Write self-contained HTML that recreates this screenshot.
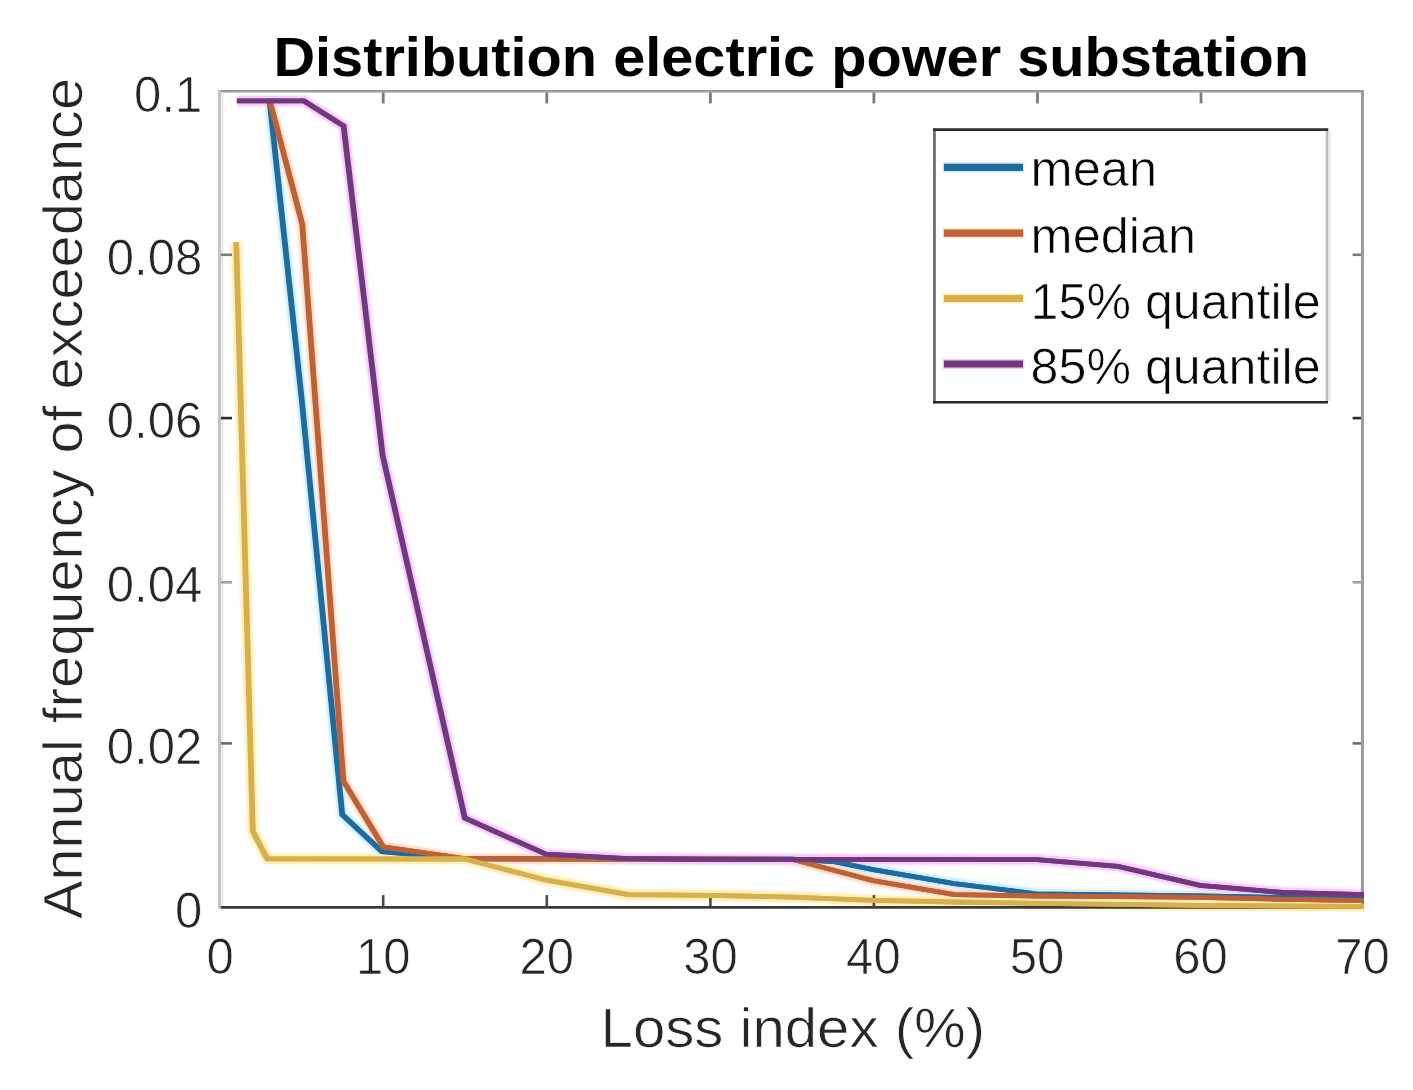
<!DOCTYPE html>
<html><head><meta charset="utf-8"><title>Distribution electric power substation</title>
<style>html,body{margin:0;padding:0;background:#fff;}body{width:1413px;height:1090px;overflow:hidden;}svg{display:block;}text{font-family:"Liberation Sans",sans-serif;}</style>
</head><body>
<svg width="1413" height="1090" viewBox="0 0 1413 1090" style="filter:blur(0.45px)">
<rect x="0" y="0" width="1413" height="1090" fill="#ffffff"/>
<clipPath id="cp"><rect x="216" y="86" width="1148.1" height="826"/></clipPath>
<g fill="none" stroke-linejoin="miter" stroke-linecap="butt" clip-path="url(#cp)">
<polyline points="269.6,100.9 301.8,400.0 342.2,814.5 382.0,851.6 464.8,858.9 792.0,859.2 833.0,861.5 873.0,869.7 954.4,883.6 1036.5,893.8 1118.0,895.0 1200.0,896.0 1282.0,897.5 1363.8,899.0" stroke="#f0fbff" stroke-width="14.0"/>
<polyline points="269.8,100.9 302.3,224.5 343.4,780.9 383.3,847.0 464.8,858.7 792.0,859.3 873.0,880.6 954.4,894.6 1036.5,896.0 1118.0,896.6 1200.0,897.4 1282.0,899.4 1363.8,900.7" stroke="#fff5ee" stroke-width="14.0"/>
<polyline points="236.2,242.2 252.8,831.4 267.2,858.9 464.8,859.0 546.5,880.2 628.5,894.7 710.0,895.3 792.0,897.1 873.0,900.4 954.4,902.0 1036.5,903.4 1200.0,905.4 1363.8,906.4" stroke="#fffae6" stroke-width="14.0"/>
<polyline points="237.2,100.9 304.0,100.9 343.6,125.9 382.6,455.0 464.8,818.0 546.0,854.2 628.0,858.6 710.0,859.3 1037.0,859.6 1118.0,866.3 1200.0,885.3 1282.0,892.5 1363.8,894.7" stroke="#fdf0fe" stroke-width="14.0"/>
<polyline points="269.6,100.9 301.8,400.0 342.2,814.5 382.0,851.6 464.8,858.9 792.0,859.2 833.0,861.5 873.0,869.7 954.4,883.6 1036.5,893.8 1118.0,895.0 1200.0,896.0 1282.0,897.5 1363.8,899.0" stroke="#cdefff" stroke-width="10.0"/>
<polyline points="269.8,100.9 302.3,224.5 343.4,780.9 383.3,847.0 464.8,858.7 792.0,859.3 873.0,880.6 954.4,894.6 1036.5,896.0 1118.0,896.6 1200.0,897.4 1282.0,899.4 1363.8,900.7" stroke="#ffdfca" stroke-width="10.0"/>
<polyline points="236.2,242.2 252.8,831.4 267.2,858.9 464.8,859.0 546.5,880.2 628.5,894.7 710.0,895.3 792.0,897.1 873.0,900.4 954.4,902.0 1036.5,903.4 1200.0,905.4 1363.8,906.4" stroke="#ffefb6" stroke-width="10.0"/>
<polyline points="237.2,100.9 304.0,100.9 343.6,125.9 382.6,455.0 464.8,818.0 546.0,854.2 628.0,858.6 710.0,859.3 1037.0,859.6 1118.0,866.3 1200.0,885.3 1282.0,892.5 1363.8,894.7" stroke="#f7cbfb" stroke-width="10.0"/>
</g>
<g fill="none" stroke-linecap="butt">
<line x1="218.0" y1="91.2" x2="1363.95" y2="91.2" stroke="#9b9b9b" stroke-width="2.4"/>
<line x1="1362.45" y1="90.0" x2="1362.45" y2="908.5999999999999" stroke="#9a9a9a" stroke-width="3"/>
<line x1="222.3" y1="92.4" x2="222.3" y2="906.0" stroke="#ebebeb" stroke-width="2.6"/>
<line x1="219.5" y1="90.0" x2="219.5" y2="908.5999999999999" stroke="#c3c3c3" stroke-width="3"/>
<line x1="220.8" y1="907.3" x2="1360.95" y2="907.3" stroke="#3a3a3a" stroke-width="2.7"/>
<line x1="383.2" y1="906.0" x2="383.2" y2="895.0999999999999" stroke="#4a4a4a" stroke-width="2.6"/>
<line x1="383.2" y1="92.4" x2="383.2" y2="103.4" stroke="#7a7a7a" stroke-width="2.8"/>
<line x1="546.8" y1="906.0" x2="546.8" y2="895.0999999999999" stroke="#4a4a4a" stroke-width="2.6"/>
<line x1="546.8" y1="92.4" x2="546.8" y2="103.4" stroke="#7a7a7a" stroke-width="2.8"/>
<line x1="710.4" y1="906.0" x2="710.4" y2="895.0999999999999" stroke="#4a4a4a" stroke-width="2.6"/>
<line x1="710.4" y1="92.4" x2="710.4" y2="103.4" stroke="#7a7a7a" stroke-width="2.8"/>
<line x1="873.9" y1="906.0" x2="873.9" y2="895.0999999999999" stroke="#4a4a4a" stroke-width="2.6"/>
<line x1="873.9" y1="92.4" x2="873.9" y2="103.4" stroke="#7a7a7a" stroke-width="2.8"/>
<line x1="1037.5" y1="92.4" x2="1037.5" y2="103.4" stroke="#7a7a7a" stroke-width="2.8"/>
<line x1="1201.0" y1="92.4" x2="1201.0" y2="103.4" stroke="#7a7a7a" stroke-width="2.8"/>
<line x1="221.0" y1="743.4" x2="232" y2="743.4" stroke="#6a6a6a" stroke-width="2.6"/>
<line x1="1360.95" y1="743.4" x2="1352.6" y2="743.4" stroke="#6a6a6a" stroke-width="2.6"/>
<line x1="221.0" y1="582.3" x2="232" y2="582.3" stroke="#a2a2a2" stroke-width="2.6"/>
<line x1="1360.95" y1="582.3" x2="1352.6" y2="582.3" stroke="#a2a2a2" stroke-width="2.6"/>
<line x1="221.0" y1="418.1" x2="232" y2="418.1" stroke="#2a2a2a" stroke-width="2.6"/>
<line x1="1360.95" y1="418.1" x2="1352.6" y2="418.1" stroke="#2a2a2a" stroke-width="2.6"/>
<line x1="221.0" y1="254.8" x2="232" y2="254.8" stroke="#7a7a7a" stroke-width="2.6"/>
<line x1="1360.95" y1="254.8" x2="1352.6" y2="254.8" stroke="#7a7a7a" stroke-width="2.6"/>
</g>
<g fill="none" stroke-linejoin="miter" stroke-linecap="butt" clip-path="url(#cp)">
<polyline points="269.1,100.9 301.3,400.0 341.7,814.5 381.5,851.6 464.3,858.9 791.5,859.2 832.5,861.5 872.5,869.7 953.9,883.6 1036.0,893.8 1117.5,895.0 1199.5,896.0 1281.5,897.5 1363.3,899.0" stroke="#1f6b9e" stroke-width="4.8"/>
<polyline points="270.1,100.9 302.3,400.0 342.7,814.5 382.5,851.6 465.3,858.9 792.5,859.2 833.5,861.5 873.5,869.7 954.9,883.6 1037.0,893.8 1118.5,895.0 1200.5,896.0 1282.5,897.5 1364.3,899.0" stroke="#1f6b9e" stroke-width="4.8"/>
<polyline points="269.3,100.9 301.8,224.5 342.9,780.9 382.8,847.0 464.3,858.7 791.5,859.3 872.5,880.6 953.9,894.6 1036.0,896.0 1117.5,896.6 1199.5,897.4 1281.5,899.4 1363.3,900.7" stroke="#bd6236" stroke-width="4.8"/>
<polyline points="270.3,100.9 302.8,224.5 343.9,780.9 383.8,847.0 465.3,858.7 792.5,859.3 873.5,880.6 954.9,894.6 1037.0,896.0 1118.5,896.6 1200.5,897.4 1282.5,899.4 1364.3,900.7" stroke="#bd6236" stroke-width="4.8"/>
<polyline points="235.7,242.2 252.3,831.4 266.7,858.9 464.3,859.0 546.0,880.2 628.0,894.7 709.5,895.3 791.5,897.1 872.5,900.4 953.9,902.0 1036.0,903.4 1199.5,905.4 1363.3,906.4" stroke="#d6b04f" stroke-width="4.8"/>
<polyline points="236.7,242.2 253.3,831.4 267.7,858.9 465.3,859.0 547.0,880.2 629.0,894.7 710.5,895.3 792.5,897.1 873.5,900.4 954.9,902.0 1037.0,903.4 1200.5,905.4 1364.3,906.4" stroke="#d6b04f" stroke-width="4.8"/>
<polyline points="236.7,100.9 303.5,100.9 343.1,125.9 382.1,455.0 464.3,818.0 545.5,854.2 627.5,858.6 709.5,859.3 1036.5,859.6 1117.5,866.3 1199.5,885.3 1281.5,892.5 1363.3,894.7" stroke="#70397e" stroke-width="4.8"/>
<polyline points="237.7,100.9 304.5,100.9 344.1,125.9 383.1,455.0 465.3,818.0 546.5,854.2 628.5,858.6 710.5,859.3 1037.5,859.6 1118.5,866.3 1200.5,885.3 1282.5,892.5 1364.3,894.7" stroke="#70397e" stroke-width="4.8"/>
</g>
<rect x="933.1" y="128.2" width="394.9" height="275.4" fill="#ffffff" stroke="none"/>
<g fill="none" stroke-linecap="butt">
<line x1="1329.6" y1="130.9" x2="1329.6" y2="401.0" stroke="#ececec" stroke-width="2.6"/>
<line x1="1327.0" y1="130.9" x2="1327.0" y2="401.0" stroke="#bdbdbd" stroke-width="2.6"/>
<line x1="934.45" y1="128.2" x2="934.45" y2="403.6" stroke="#6a6a6a" stroke-width="2.7"/>
<line x1="933.1" y1="129.55" x2="1328.3" y2="129.55" stroke="#2e2e2e" stroke-width="2.7"/>
<line x1="933.1" y1="402.3" x2="1328.0" y2="402.3" stroke="#2a2a2a" stroke-width="2.6"/>
<line x1="942.6" y1="167.4" x2="1024.3" y2="167.4" stroke="#cdefff" stroke-width="10.2"/>
<line x1="943.9" y1="167.4" x2="1023.0" y2="167.4" stroke="#1f6b9e" stroke-width="7.2"/>
<line x1="942.6" y1="233.1" x2="1024.3" y2="233.1" stroke="#ffdfca" stroke-width="10.2"/>
<line x1="943.9" y1="233.1" x2="1023.0" y2="233.1" stroke="#bd6236" stroke-width="7.2"/>
<line x1="942.6" y1="298.5" x2="1024.3" y2="298.5" stroke="#ffefb6" stroke-width="10.2"/>
<line x1="943.9" y1="298.5" x2="1023.0" y2="298.5" stroke="#d6b04f" stroke-width="7.2"/>
<line x1="942.6" y1="364.0" x2="1024.3" y2="364.0" stroke="#f7cbfb" stroke-width="10.2"/>
<line x1="943.9" y1="364.0" x2="1023.0" y2="364.0" stroke="#70397e" stroke-width="7.2"/>
</g>
<text x="1030.6" y="186.2" font-size="50.3" textLength="126.5" lengthAdjust="spacingAndGlyphs" fill="#050505" stroke="#ffffff" stroke-width="0.7" paint-order="fill stroke">mean</text>
<text x="1030.6" y="253.0" font-size="50.3" textLength="165.5" lengthAdjust="spacingAndGlyphs" fill="#050505" stroke="#ffffff" stroke-width="0.7" paint-order="fill stroke">median</text>
<text x="1030.6" y="318.8" font-size="50.3" textLength="290.0" lengthAdjust="spacingAndGlyphs" fill="#050505" stroke="#ffffff" stroke-width="0.7" paint-order="fill stroke">15% quantile</text>
<text x="1030.6" y="384.2" font-size="50.3" textLength="290.0" lengthAdjust="spacingAndGlyphs" fill="#050505" stroke="#ffffff" stroke-width="0.7" paint-order="fill stroke">85% quantile</text>
<text transform="translate(220.2,973.6) scale(0.972,1)" font-size="50.5" text-anchor="middle" fill="#262626" stroke="#ffffff" stroke-width="0.7" paint-order="fill stroke">0</text>
<text transform="translate(383.2,973.6) scale(0.972,1)" font-size="50.5" text-anchor="middle" fill="#262626" stroke="#ffffff" stroke-width="0.7" paint-order="fill stroke">10</text>
<text transform="translate(546.8,973.6) scale(0.972,1)" font-size="50.5" text-anchor="middle" fill="#262626" stroke="#ffffff" stroke-width="0.7" paint-order="fill stroke">20</text>
<text transform="translate(710.6,973.6) scale(0.972,1)" font-size="50.5" text-anchor="middle" fill="#262626" stroke="#ffffff" stroke-width="0.7" paint-order="fill stroke">30</text>
<text transform="translate(873.4,973.6) scale(0.972,1)" font-size="50.5" text-anchor="middle" fill="#262626" stroke="#ffffff" stroke-width="0.7" paint-order="fill stroke">40</text>
<text transform="translate(1037.0,973.6) scale(0.972,1)" font-size="50.5" text-anchor="middle" fill="#262626" stroke="#ffffff" stroke-width="0.7" paint-order="fill stroke">50</text>
<text transform="translate(1200.6,973.6) scale(0.972,1)" font-size="50.5" text-anchor="middle" fill="#262626" stroke="#ffffff" stroke-width="0.7" paint-order="fill stroke">60</text>
<text transform="translate(1362.5,973.6) scale(0.972,1)" font-size="50.5" text-anchor="middle" fill="#262626" stroke="#ffffff" stroke-width="0.7" paint-order="fill stroke">70</text>
<text transform="translate(202.3,927.8) scale(0.972,1)" font-size="50.5" text-anchor="end" fill="#262626" stroke="#ffffff" stroke-width="0.7" paint-order="fill stroke">0</text>
<text transform="translate(202.3,764.3) scale(0.972,1)" font-size="50.5" text-anchor="end" fill="#262626" stroke="#ffffff" stroke-width="0.7" paint-order="fill stroke">0.02</text>
<text transform="translate(202.3,601.5) scale(0.972,1)" font-size="50.5" text-anchor="end" fill="#262626" stroke="#ffffff" stroke-width="0.7" paint-order="fill stroke">0.04</text>
<text transform="translate(202.3,438.3) scale(0.972,1)" font-size="50.5" text-anchor="end" fill="#262626" stroke="#ffffff" stroke-width="0.7" paint-order="fill stroke">0.06</text>
<text transform="translate(202.3,275.1) scale(0.972,1)" font-size="50.5" text-anchor="end" fill="#262626" stroke="#ffffff" stroke-width="0.7" paint-order="fill stroke">0.08</text>
<text transform="translate(202.3,111.7) scale(0.972,1)" font-size="50.5" text-anchor="end" fill="#262626" stroke="#ffffff" stroke-width="0.7" paint-order="fill stroke">0.1</text>
<text x="600.6" y="1047.1" font-size="55.5" textLength="384.5" lengthAdjust="spacingAndGlyphs" fill="#262626" stroke="#ffffff" stroke-width="0.7" paint-order="fill stroke">Loss index (%)</text>
<text transform="translate(81.6,919) rotate(-90)" font-size="55.5" textLength="841" lengthAdjust="spacingAndGlyphs" fill="#262626" stroke="#ffffff" stroke-width="0.7" paint-order="fill stroke">Annual frequency of exceedance</text>
<text x="273.4" y="75.5" font-size="55.5" font-weight="bold" textLength="1035.5" lengthAdjust="spacingAndGlyphs" fill="#000">Distribution electric power substation</text>
</svg>
</body></html>
